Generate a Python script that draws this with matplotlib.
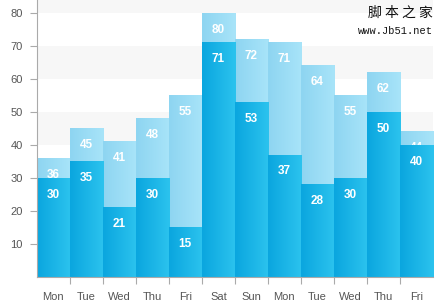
import numpy as np
import matplotlib
matplotlib.use("Agg")
import matplotlib.pyplot as plt
from matplotlib.colors import LinearSegmentedColormap

plt.rcParams["font.family"] = ["Liberation Sans", "DejaVu Sans"]

days = ["Mon", "Tue", "Wed", "Thu", "Fri", "Sat", "Sun",
        "Mon", "Tue", "Wed", "Thu", "Fri"]
back_vals = [36, 45, 41, 48, 55, 80, 72, 71, 64, 55, 62, 44]
front_vals = [30, 35, 21, 30, 15, 71, 53, 37, 28, 30, 50, 40]
yticks = [10, 20, 30, 40, 50, 60, 70, 80]

back_cmap = LinearSegmentedColormap.from_list("back", ["#8ed5f1", "#a8e4f9"])
front_cmap = LinearSegmentedColormap.from_list("front", ["#0aa6df", "#2cc3ee"])
grad = np.linspace(0, 1, 64).reshape(1, -1)

fig = plt.figure(figsize=(4.44, 3.05), dpi=100)
ax = fig.add_axes([0.083, 0.092, 0.892, 0.908])

# alternating bands
for y0 in range(0, 90, 20):
    ax.axhspan(y0, y0 + 10, color="#f7f7f7", zorder=0, lw=0)

def bars(vals, cmap, z):
    for i, v in enumerate(vals):
        ax.imshow(grad, cmap=cmap, extent=[i, i + 1, 0, v],
                  aspect="auto", zorder=z, interpolation="bilinear")
        ax.text(i + 0.5, v - 5, str(v), ha="center", va="center",
                color="white", fontsize=8.5, fontweight="bold", zorder=z + 0.5)

bars(back_vals, back_cmap, 2)
bars(front_vals, front_cmap, 3)
ax.set_xlim(0, len(days))
ax.set_ylim(0, 84)

ax.set_yticks(yticks)
ax.set_yticklabels([str(t) for t in yticks])
ax.set_xticks(np.arange(1, len(days)))
ax.set_xticklabels([])
ax.set_xticks(np.arange(len(days)) + 0.5, minor=True)
ax.set_xticklabels(days, minor=True)
ax.tick_params(axis="x", which="minor", length=0, pad=11, labelsize=8, colors="#555555")
ax.tick_params(axis="x", which="major", length=5, color="#aaaaaa", direction="out")
ax.tick_params(axis="y", length=5, color="#aaaaaa", labelsize=8, labelcolor="#555555", pad=5)

for s in ["top", "right"]:
    ax.spines[s].set_visible(False)
for s in ["left", "bottom"]:
    ax.spines[s].set_color("#aaaaaa")
    ax.spines[s].set_zorder(5)

fig.text(0.975, 0.958, "脚 本 之 家", ha="right", va="center", fontsize=10,
         family=["Noto Sans CJK SC", "DejaVu Sans"], color="#111111")
fig.text(0.975, 0.9, "www.Jb51.net", ha="right", va="center", fontsize=7.5,
         family="Liberation Mono", color="#111111")

fig.savefig("out.png", dpi=100)
